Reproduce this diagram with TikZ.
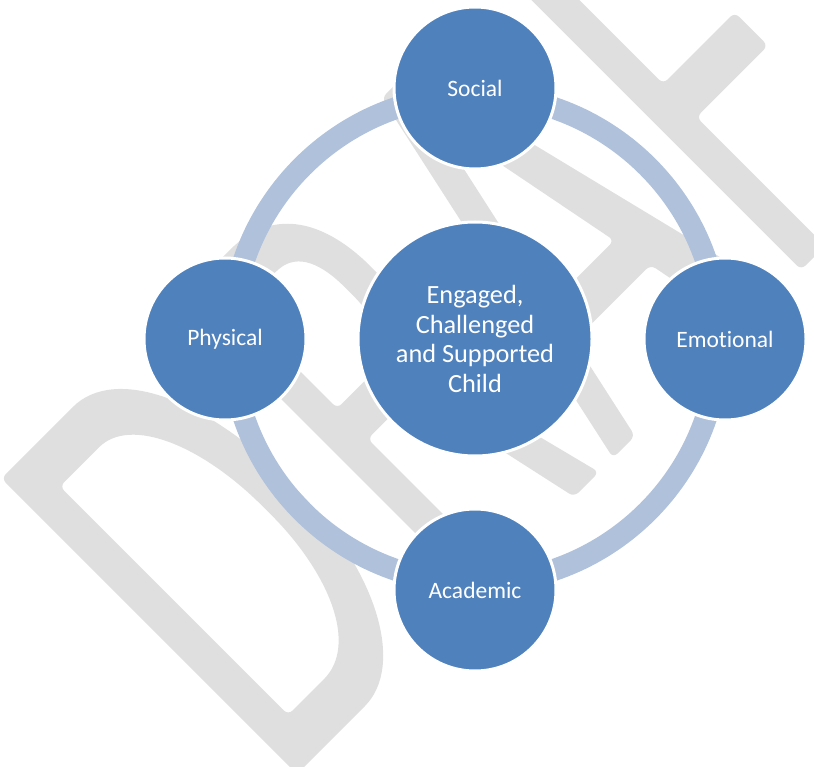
\documentclass[tikz,border=0pt]{standalone}
\usepackage{fontspec}
\setmainfont{Carlito}[Ligatures={NoCommon,NoContextual}]
\definecolor{wmgray}{RGB}{223,223,223}
\definecolor{ringblue}{RGB}{176,193,220}
\definecolor{nodeblue}{RGB}{79,129,189}
\begin{document}
\begin{tikzpicture}[x=1pt,y=-1pt,
  petal/.style={circle, fill=nodeblue, draw=white, line width=3pt,
    minimum size=162pt, inner sep=0pt, text=white,
    font=\fontsize{23.5}{28}\selectfont},
  hub/.style={petal, minimum size=234pt, align=center,
    font=\fontsize{26.3}{29.5}\selectfont},
  ringline/.style={draw=ringblue, line width=22pt},
  letter/.style={fill=wmgray, even odd rule, rounded corners=6pt}]
\useasboundingbox (0,0) rectangle (814,767);

% diagonal DRAFT watermark, drawn in its own rotated letter frame
\begin{scope}
\clip (0,0) rectangle (814,767);
\begin{scope}[shift={(297pt,-774pt)}, x={(0.7071pt,0.7071pt)}, y={(-0.7071pt,0.7071pt)}]
  % D
  \fill[letter] (0,0) -- (90,0) .. controls (152,0) and (201,85) .. (201,209)
      .. controls (201,330) and (160,418) .. (95,418) -- (0,418) -- cycle
    (35.6,48) -- (80,48) .. controls (135,48) and (165,120) .. (165,208)
      .. controls (165,300) and (135,371) .. (85,371) -- (35.6,371) -- cycle;
  % R
  \fill[letter] (254,0) -- (254,418) -- (318,418)
      .. controls (378,418) and (411,380) .. (411,300)
      .. controls (411,255) and (395,225) .. (373,212)
      -- (427,0) -- (392,0) -- (351,187) -- (287,187) -- (287,0) -- cycle
    (287,230) -- (287,370) -- (335,370) .. controls (365,370) and (378,350) .. (378,305)
      .. controls (378,255) and (360,230) .. (330,230) -- cycle;
  % A
  \fill[letter] (447,0) -- (538,418) -- (578,418) -- (681,0) -- (631.5,0)
      -- (610,110) -- (502,110) -- (478,0) -- cycle
    (511.5,153) -- (559,370) -- (601.5,153) -- cycle;
  % F
  \fill[letter] (713,0) -- (713,418) -- (870,418) -- (870,370) -- (747,370)
      -- (747,229) -- (848,229) -- (848,182) -- (747,182) -- (747,0) -- cycle;
\end{scope}
\end{scope}

% ring behind the four outer circles
\coordinate (c) at (475,339);
\draw[ringline] (c) circle[radius=244pt];

\node[petal] (soc) at (475,88) {Social};
\node[petal] (emo) at (725,339) {Emotional};
\node[petal] (aca) at (475,590) {Academic};
\node[petal] (phy) at (225,339) {Physical};
\node[hub] (hub) at (c) {Engaged,\\Challenged\\and Supported\\Child};
\end{tikzpicture}
\end{document}
